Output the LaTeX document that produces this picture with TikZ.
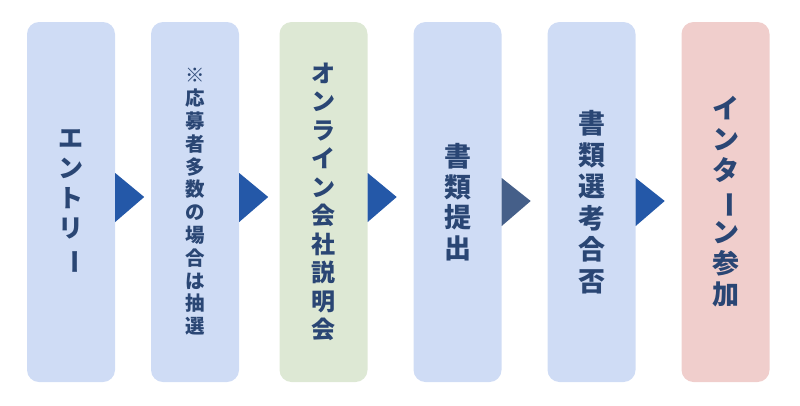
\documentclass[tikz,border=0pt]{standalone}
\usepackage{fontspec}
\usepackage{graphicx}
\usetikzlibrary{calc}
\newfontfamily\jpfont{Noto Sans CJK JP}
\definecolor{boxblue}{HTML}{CFDCF5}
\definecolor{boxgreen}{HTML}{DDE8D4}
\definecolor{boxpink}{HTML}{F0CECC}
\definecolor{textnavy}{HTML}{2A4674}
\definecolor{arrowblue}{HTML}{2458A8}
\definecolor{arrowslate}{HTML}{455F89}
\newcommand{\vbar}{\rotatebox[origin=c]{-90}{ー}}
\newcommand{\stepfont}[2]{\jpfont\bfseries\fontsize{#1}{#2}\selectfont}
\tikzset{
  stepbox/.style={rounded corners=12pt, minimum width=88pt, minimum height=360pt,
    inner sep=0pt, align=center, text=textnavy},
  steparrow/.style={fill=arrowblue},
}
\begin{document}
\begin{tikzpicture}[x=1pt, y=-1pt]
\useasboundingbox (0,0) rectangle (800,405);
\node[stepbox, fill=boxblue, font=\stepfont{25}{30}] (a) at (71,202) {エ\\ン\\ト\\リ\\\vbar};
\node[stepbox, fill=boxblue, font=\stepfont{19.5}{22.8}] (b) at (195,202) {※\\応\\募\\者\\多\\数\\の\\場\\合\\は\\抽\\選};
\node[stepbox, fill=boxgreen, font=\stepfont{24}{28.5}] (c) at (323.5,202) {オ\\ン\\ラ\\イ\\ン\\会\\社\\説\\明\\会};
\node[stepbox, fill=boxblue, font=\stepfont{27}{30.5}] (d) at (457.5,202) {書\\類\\提\\出};
\node[stepbox, fill=boxblue, font=\stepfont{27}{31.5}] (e) at (591.5,202) {書\\類\\選\\考\\合\\否};
\node[stepbox, fill=boxpink, font=\stepfont{27}{31}] (f) at (725.5,202) {イ\\ン\\タ\\\vbar\\ン\\参\\加};
\fill[steparrow] ($(a.east)+(0,-29)$) -- ($(a.east)+(29,-5)$) -- ($(a.east)+(0,20)$) -- cycle;
\fill[steparrow] ($(b.east)+(0,-29)$) -- ($(b.east)+(29,-5)$) -- ($(b.east)+(0,20)$) -- cycle;
\fill[steparrow] ($(c.east)+(0,-29)$) -- ($(c.east)+(29,-5)$) -- ($(c.east)+(0,20)$) -- cycle;
\fill[steparrow, fill=arrowslate] ($(d.east)+(0,-24)$) -- ($(d.east)+(29,-1)$) -- ($(d.east)+(0,24)$) -- cycle;
\fill[steparrow] ($(e.east)+(0,-24)$) -- ($(e.east)+(29,-1)$) -- ($(e.east)+(0,24)$) -- cycle;
\end{tikzpicture}
\end{document}
